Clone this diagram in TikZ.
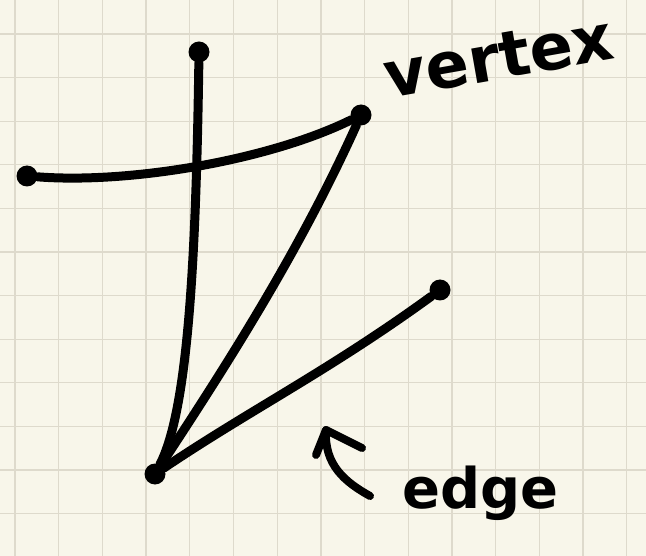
\documentclass[tikz,border=0pt]{standalone}
\usepackage{fontspec}
\newfontfamily\handfont{DejaVu Sans}
\begin{document}
\begin{tikzpicture}[x=1pt,y=-1pt,
  paper/.style={fill={rgb,255:red,248;green,246;blue,234}},
  gridline/.style={draw={rgb,255:red,222;green,218;blue,204},line width=1.3pt},
  vtx/.style={circle,fill=black,inner sep=0pt,minimum size=21pt},
  edgeline/.style={line width=9pt,line cap=round,line join=round},
  label/.style={font=\handfont\bfseries,inner sep=0pt}]
\fill[paper] (0,0) rectangle (646,556);
\useasboundingbox (0,0) rectangle (646,556);
\foreach \i in {0,...,14} {\draw[gridline] ({15+43.7*\i},0) -- ({15+43.7*\i},556);}
\foreach \j in {0,...,11} {\draw[gridline] (0,{34+43.6*\j}) -- (646,{34+43.6*\j});}
% vertices
\node[vtx] (top) at (199,52) {};
\node[vtx] (left) at (27,176) {};
\node[vtx] (ur) at (361,115) {};
\node[vtx] (lr) at (440,290) {};
\node[vtx] (bot) at (155,474) {};
% edges
\draw[edgeline] (top) .. controls (196,260) and (188,410) .. (bot);
\draw[edgeline] (left) .. controls (130,184) and (270,160) .. (ur);
\draw[edgeline] (ur) .. controls (300,250) and (230,360) .. (bot);
\draw[edgeline] (bot) .. controls (250,410) and (330,370) .. (lr);
% arrow
\coordinate (atail) at (370,496);
\coordinate (atip) at (326,430);
\coordinate (ahl) at (316,455);
\coordinate (ahr) at (362,448);
\draw[line width=8pt,line cap=round] (atail) .. controls (345,482) and (324,465) .. (atip);
\draw[line width=8pt,line cap=round,line join=round] (ahl) -- (atip) -- (ahr);
% labels
\node[label,font=\handfont\bfseries\fontsize{64}{64}\selectfont,anchor=base west,rotate=10] (vlab) at (388,99) {vertex};
\node[label,font=\handfont\bfseries\fontsize{56}{56}\selectfont,anchor=base west] (elab) at (402,508) {edge};
\end{tikzpicture}
\end{document}
